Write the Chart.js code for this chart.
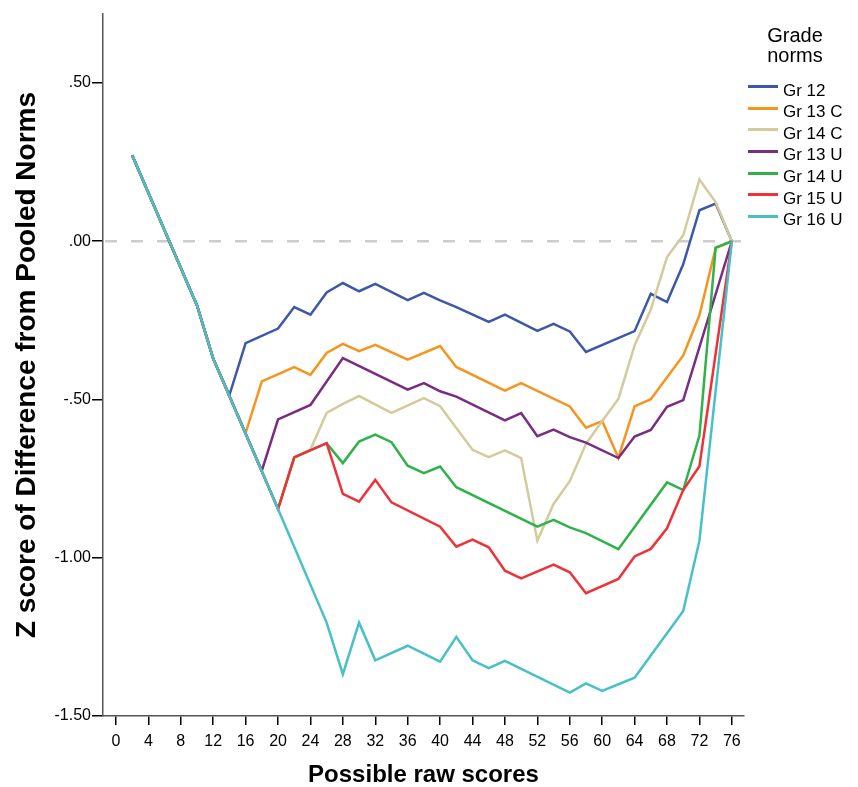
<!DOCTYPE html>
<html>
<head>
<meta charset="utf-8">
<script src="https://cdn.jsdelivr.net/npm/chart.js@4/dist/chart.umd.min.js"></script>
<style>
html,body{margin:0;padding:0;background:#fff;}
#wrap{position:relative;width:858px;height:787px;overflow:hidden;}
#legend{position:absolute;left:0;top:0;width:858px;height:787px;pointer-events:none;font-family:"Liberation Sans",Arial,sans-serif;color:#000;}
#legend .ttl{position:absolute;left:745px;width:100px;text-align:center;font-size:20px;line-height:19.5px;top:26px;}
#legend .sw{position:absolute;left:748px;width:30px;height:3px;}
#legend .lb{position:absolute;left:783px;font-size:17px;line-height:17px;white-space:nowrap;}
</style>
</head>
<body>
<div id="wrap">
<canvas id="c" width="858" height="787"></canvas>
<div id="legend"></div>
</div>
<script>
// ---- Data ----
const scores = [2,4,6,8,10,12,14,16,18,20,22,24,26,28,30,32,34,36,38,40,42,44,46,48,50,52,54,56,58,60,62,64,66,68,70,72,74,76];

const seriesNames = ["Gr 12","Gr 13 C","Gr 14 C","Gr 13 U","Gr 14 U","Gr 15 U","Gr 16 U"];
const seriesColors = ["#3D58A8","#F7941D","#D3CB9C","#792C82","#2FB24A","#EE3237","#47C1C7"];

const gr12  = [.272,null,null,null,-.203,-.371,-.486,-.322,null,-.276,-.208,-.232,-.162,-.132,-.158,-.135,null,-.186,-.163,-.187,-.208,null,-.255,-.232,null,-.283,-.261,-.285,-.350,null,null,-.284,-.166,-.192,-.073,.098,.119,0];
const gr13c = [.272,null,null,null,-.203,-.371,null,-.606,-.443,null,-.398,-.422,-.353,-.324,-.347,-.327,null,-.374,null,-.331,-.397,null,null,-.472,-.448,null,null,-.522,-.589,-.568,-.684,-.522,-.499,null,-.361,-.234,-.022,0];
const gr14c = [.272,null,null,null,-.203,-.371,null,null,null,-.846,-.683,-.658,-.542,-.514,-.489,null,-.542,null,-.496,-.521,null,-.659,-.682,-.661,-.685,-.946,-.830,-.758,-.640,-.568,-.498,-.329,-.216,-.050,.019,.195,.124,0];
const gr13u = [.272,null,null,null,-.203,-.371,null,null,-.725,-.563,null,-.517,null,-.369,null,null,null,-.469,-.448,-.474,-.491,null,null,-.566,-.543,-.616,-.595,-.619,-.636,null,-.685,-.617,-.596,-.523,-.502,null,null,0];
const gr14u = [.272,null,null,null,-.203,-.371,null,null,null,-.846,-.683,null,-.638,-.701,-.633,-.611,-.635,-.709,-.733,-.712,-.777,null,null,null,null,-.902,-.880,-.904,-.922,null,-.973,null,null,-.762,-.786,-.614,-.020,0];
const gr15u = [.272,null,null,null,-.203,-.371,null,null,null,-.846,-.683,null,-.638,-.798,-.823,-.754,-.825,null,null,-.902,-.965,-.943,-.967,-1.041,-1.065,null,-1.022,-1.046,-1.112,null,-1.067,-.996,-.972,-.907,-.786,-.711,null,0];
const gr16u = [.272,null,null,null,-.203,-.371,null,null,null,-.846,null,null,-1.205,-1.368,-1.205,-1.324,null,-1.278,null,-1.328,-1.250,-1.324,-1.349,-1.326,null,null,null,-1.426,-1.397,-1.421,null,-1.379,null,null,-1.168,-.946,null,0];

const xTicks = [0,4,8,12,16,20,24,28,32,36,40,44,48,52,56,60,64,68,72,76];
const yTicks = [0.5,0,-0.5,-1,-1.5];
const yTickLabels = [".50",".00","-.50","-1.00","-1.50"];

const xTitle = "Possible raw scores";
const yTitle = "Z score of Difference from Pooled Norms";
const legendTitle = ["Grade","norms"];
// --------------------------------------------

const allSeries = [gr12, gr13c, gr14c, gr13u, gr14u, gr15u, gr16u];
const FAM = '"Liberation Sans", Arial, sans-serif';

const datasets = allSeries.map((vals, i) => ({
  label: seriesNames[i],
  data: vals.map((v, j) => ({x: scores[j], y: v})),
  borderColor: seriesColors[i],
  backgroundColor: seriesColors[i],
  borderWidth: 2.5,
  pointRadius: 0,
  tension: 0,
  spanGaps: true,
  fill: false,
  order: allSeries.length - i
}));

const zeroLine = {
  id: 'zeroLine',
  beforeDatasetsDraw(chart) {
    const {ctx, chartArea: a, scales: {y}} = chart;
    const py = y.getPixelForValue(0);
    ctx.save();
    ctx.strokeStyle = '#CCCCCC';
    ctx.lineWidth = 2.5;
    ctx.setLineDash([12, 14]);
    ctx.beginPath();
    ctx.moveTo(a.left + 2, py);
    ctx.lineTo(a.right, py);
    ctx.stroke();
    ctx.restore();
  }
};

new Chart(document.getElementById('c'), {
  type: 'line',
  data: { datasets },
  plugins: [zeroLine],
  options: {
    responsive: false,
    animation: false,
    devicePixelRatio: 1,
    layout: { padding: { left: 0, top: 14, right: 114, bottom: 0 } },
    plugins: { legend: { display: false }, tooltip: { enabled: false } },
    scales: {
      x: {
        type: 'linear', min: -1.6, max: 77.5,
        afterFit(s) { s.height = 71; },
        afterBuildTicks(s) { s.ticks = xTicks.map(v => ({value: v})); },
        grid: { drawOnChartArea: false, drawTicks: true, tickLength: 9, color: '#000', lineWidth: 1.5 },
        border: { display: true, color: '#555', width: 1.5 },
        ticks: { autoSkip: false, maxRotation: 0, padding: 7, color: '#000', font: { size: 16, family: FAM }, callback: v => String(v) },
        title: { display: true, text: xTitle, color: '#000', font: { size: 24, weight: 'bold', family: FAM, lineHeight: 1 }, padding: { top: 0, bottom: 0 } }
      },
      y: {
        type: 'linear', min: -1.5, max: 0.718,
        afterFit(s) { s.width = 103; },
        afterBuildTicks(s) { s.ticks = yTicks.map(v => ({value: v})); },
        grid: { drawOnChartArea: false, drawTicks: true, tickLength: 11, color: '#000', lineWidth: 1.5 },
        border: { display: true, color: '#555', width: 1.5 },
        ticks: { autoSkip: false, padding: 1, color: '#000', font: { size: 16, family: FAM }, callback: v => yTickLabels[yTicks.indexOf(v)] },
        title: { display: true, text: yTitle, color: '#000', font: { size: 28, weight: 'bold', family: FAM, lineHeight: 1 }, padding: { top: 13, bottom: 0 } }
      }
    }
  }
});

// HTML legend
const lg = document.getElementById('legend');
const t = document.createElement('div');
t.className = 'ttl';
t.innerHTML = legendTitle.join('<br>');
lg.appendChild(t);
seriesNames.forEach((n, i) => {
  const yLine = 86.7 + 21.6 * i;
  const sw = document.createElement('div');
  sw.className = 'sw';
  sw.style.top = Math.round(yLine - 1.5) + 'px';
  sw.style.background = seriesColors[i];
  lg.appendChild(sw);
  const lb = document.createElement('div');
  lb.className = 'lb';
  lb.style.top = (yLine - 5.1) + 'px';
  lb.textContent = n;
  lg.appendChild(lb);
});
</script>
</body>
</html>
